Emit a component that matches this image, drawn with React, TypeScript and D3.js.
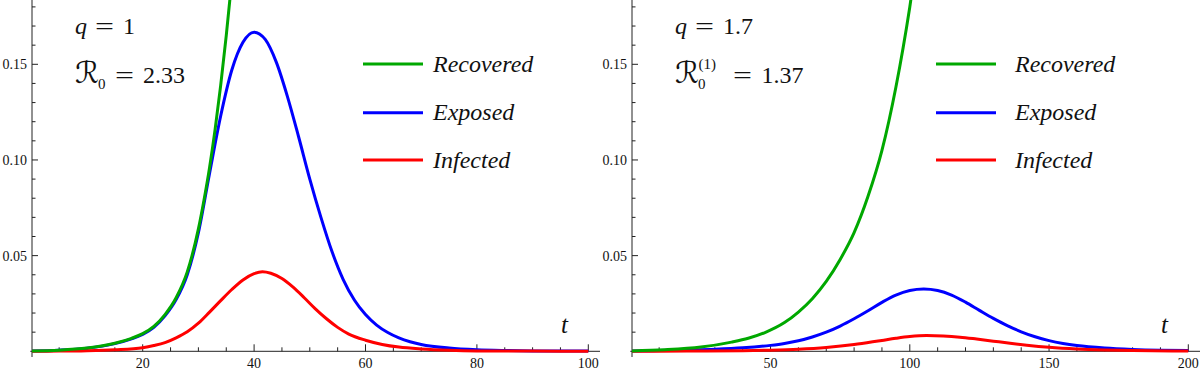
import React from "react";
import * as d3 from "d3";

// ---------- data ----------
const leftExposed: [number, number][] = [
  [0, 0.0002], [5, 0.0006], [10, 0.0016], [15, 0.004], [18, 0.0065], [20, 0.0088],
  [22, 0.0125], [24, 0.0185], [26, 0.027], [28, 0.04], [30, 0.062], [32, 0.093],
  [34, 0.123], [36, 0.147], [38, 0.1615], [40, 0.1668], [42, 0.163], [44, 0.151],
  [46, 0.133], [48, 0.112], [50, 0.09], [52, 0.07], [54, 0.052], [56, 0.0375],
  [58, 0.0268], [60, 0.0192], [62, 0.0137], [64, 0.0098], [66, 0.007], [68, 0.005],
  [70, 0.0036], [75, 0.0017], [80, 0.0008], [85, 0.0004], [90, 0.0002], [100, 0.0001],
];
const leftInfected: [number, number][] = [
  [0, 0.00005], [5, 0.0001], [10, 0.0003], [15, 0.0008], [20, 0.0019], [22, 0.003],
  [24, 0.0045], [26, 0.007], [28, 0.0102], [30, 0.0147], [32, 0.0205], [34, 0.0265],
  [36, 0.0323], [38, 0.0373], [40, 0.0406], [41.5, 0.0416], [43, 0.0408], [45, 0.038],
  [47, 0.0335], [49, 0.028], [51, 0.0222], [53, 0.017], [55, 0.0125], [57, 0.009],
  [60, 0.0058], [63, 0.0036], [66, 0.0022], [70, 0.0012], [75, 0.0005], [80, 0.0002],
  [90, 0.0001], [100, 0.00003],
];
const leftRecovered: [number, number][] = [
  [0, 0.0002], [5, 0.0006], [10, 0.0017], [15, 0.0042], [18, 0.0068], [20, 0.0092],
  [22, 0.013], [24, 0.0192], [26, 0.028], [28, 0.0415], [30, 0.064], [31, 0.079],
  [32, 0.096], [33, 0.116], [34, 0.139], [35, 0.165], [36, 0.194], [37, 0.226],
];

const rightExposed: [number, number][] = [
  [0, 0.0002], [10, 0.0004], [20, 0.0007], [30, 0.0011], [40, 0.0018], [50, 0.0031],
  [55, 0.0041], [60, 0.0055], [65, 0.0075], [70, 0.01], [75, 0.0132], [80, 0.017],
  [85, 0.0212], [90, 0.0256], [95, 0.0294], [100, 0.0318], [105, 0.0326], [110, 0.0318],
  [115, 0.0294], [120, 0.0257], [125, 0.0214], [130, 0.0172], [135, 0.0134], [140, 0.0102],
  [145, 0.0076], [150, 0.0056], [155, 0.0041], [160, 0.003], [170, 0.0017], [180, 0.001],
  [190, 0.0006], [200, 0.0004],
];
const rightInfected: [number, number][] = [
  [0, 0.00005], [20, 0.0001], [40, 0.0003], [50, 0.0006], [60, 0.0011], [70, 0.002],
  [80, 0.0035], [90, 0.0057], [95, 0.0068], [100, 0.0077], [106, 0.0082], [112, 0.008],
  [118, 0.0074], [124, 0.0064], [130, 0.0053], [136, 0.0042], [142, 0.0032], [150, 0.0021],
  [160, 0.0012], [170, 0.0007], [180, 0.0004], [200, 0.0001],
];
const rightRecovered: [number, number][] = [
  [0, 0.0002], [12, 0.0008], [25, 0.0022], [36, 0.0048], [42, 0.0068], [48, 0.0098],
  [55, 0.015], [60, 0.0205], [65, 0.0275], [70, 0.0365], [75, 0.048], [80, 0.062],
  [85, 0.081], [90, 0.105], [95, 0.138], [100, 0.18], [103, 0.21],
];

const leftXTicks = [20, 40, 60, 80, 100];
const rightXTicks = [50, 100, 150, 200];
const yTicks = [0.05, 0.1, 0.15];
const legendLabels = ["Recovered", "Exposed", "Infected"];

// ---------- styling ----------
const GREEN = "#00a800";
const BLUE = "#0000ff";
const RED = "#ff0000";
const W = 1200;
const H = 370;
const Y0 = 351.3;
const AXIS = "#222";
const SERIF = "Liberation Serif, Times New Roman, Times, DejaVu Serif, Noto Serif, serif";

const yScale = d3.scaleLinear().domain([0, 0.15]).range([Y0, 64.3]);

type PanelProps = {
  id: string;
  x0: number;
  x1: number;
  axisEnd: number;
  domainMax: number;
  majorStep: number;
  minorStep: number;
  xTicks: number[];
  exposed: [number, number][];
  infected: [number, number][];
  recovered: [number, number][];
  legendX: number;
  legendTextX: number;
  qText: string;
  rText: string;
  superscript: boolean;
};

function Panel(p: PanelProps) {
  const x = d3.scaleLinear().domain([0, p.domainMax]).range([p.x0, p.x1]);
  const line = d3
    .line<[number, number]>()
    .x((d) => x(d[0]))
    .y((d) => yScale(d[1]))
    .curve(d3.curveMonotoneX);
  const axisX = p.x0 + 0.7;
  const minorX = d3.range(p.minorStep, p.domainMax + 0.001, p.minorStep);
  const minorY = d3.range(0.01, 0.185, 0.01);
  const ox = p.x0 - 31.3;
  const legendY = [64, 112.7, 160];
  const legendColors = [GREEN, BLUE, RED];
  return (
    <g>
      <defs>
        <clipPath id={p.id}>
          <rect x={axisX} y={0} width={p.axisEnd - axisX} height={Y0 + 2} />
        </clipPath>
      </defs>
      {/* axes */}
      <line x1={axisX} x2={axisX} y1={0} y2={357} stroke={AXIS} strokeWidth={1} />
      <line x1={p.x0 - 1} x2={p.axisEnd} y1={Y0} y2={Y0} stroke={AXIS} strokeWidth={1} />
      {minorX.map((t) => {
        const major = Math.abs(t / p.majorStep - Math.round(t / p.majorStep)) < 1e-6;
        return (
          <line key={"mx" + t} x1={x(t)} x2={x(t)} y1={Y0} y2={Y0 - (major ? 7 : 4)} stroke={AXIS} strokeWidth={1} />
        );
      })}
      {minorY.map((v) => {
        const major = Math.abs(v / 0.05 - Math.round(v / 0.05)) < 1e-6;
        return (
          <line key={"my" + v} x1={axisX} x2={axisX + (major ? 6 : 3.5)} y1={yScale(v)} y2={yScale(v)} stroke={AXIS} strokeWidth={1} />
        );
      })}
      {p.xTicks.map((t) => (
        <text key={"lx" + t} x={x(t)} y={367.5} textAnchor="middle" fontFamily={SERIF} fontSize={14} fill="#111">
          {t}
        </text>
      ))}
      {yTicks.map((v) => (
        <text key={"ly" + v} x={axisX - 5} y={yScale(v)} dy="0.35em" textAnchor="end" fontFamily={SERIF} fontSize={14} fill="#111">
          {d3.format(".2f")(v)}
        </text>
      ))}
      {/* curves */}
      <g clipPath={`url(#${p.id})`} fill="none" strokeWidth={3} strokeLinejoin="round">
        <path d={line(p.exposed) || ""} stroke={BLUE} />
        <path d={line(p.infected) || ""} stroke={RED} />
        <path d={line(p.recovered) || ""} stroke={GREEN} />
      </g>
      {/* legend */}
      {legendLabels.map((lab, i) => (
        <g key={lab}>
          <line x1={p.legendX} x2={p.legendX + 60} y1={legendY[i]} y2={legendY[i]} stroke={legendColors[i]} strokeWidth={3} />
          <text x={p.legendTextX} y={legendY[i] + 7.5} fontFamily={SERIF} fontStyle="italic" fontSize={24} fill="#111">
            {lab}
          </text>
        </g>
      ))}
      {/* annotations */}
      <text x={ox + 75} y={33.5} fontFamily={SERIF} fontStyle="italic" fontSize={24} fill="#111">
        q
      </text>
      <text x={ox + 95} y={33.5} fontFamily={SERIF} fontSize={24} fill="#111" textLength={19} lengthAdjust="spacingAndGlyphs">
        =
      </text>
      <text x={ox + 123} y={33.5} fontFamily={SERIF} fontSize={24} fill="#111">
        {p.qText}
      </text>
      <text x={ox + 75} y={82.5} fontFamily="DejaVu Serif, DejaVu Sans, serif" fontStyle="italic" fontSize={30} fill="#111">
        ℛ
      </text>
      <text x={ox + 98} y={89} fontFamily={SERIF} fontSize={15} fill="#111">
        0
      </text>
      {p.superscript && (
        <text x={ox + 98.5} y={68.5} fontFamily={SERIF} fontSize={15} fill="#111">
          (1)
        </text>
      )}
      <text x={ox + (p.superscript ? 133 : 115)} y={82.5} fontFamily={SERIF} fontSize={24} fill="#111" textLength={19} lengthAdjust="spacingAndGlyphs">
        =
      </text>
      <text x={ox + (p.superscript ? 161.5 : 143)} y={82.5} fontFamily={SERIF} fontSize={24} fill="#111">
        {p.rText}
      </text>
      <text x={ox + 561} y={333} fontFamily={SERIF} fontStyle="italic" fontSize={25} fill="#111">
        t
      </text>
    </g>
  );
}

export default function App() {
  return (
    <svg width={W} height={H} viewBox={`0 0 ${W} ${H}`} style={{ position: "absolute", left: 0, top: 0, background: "#fff" }}>
      <rect x={0} y={0} width={W} height={H} fill="#fff" />
      <Panel
        id="clipL"
        x0={31.3}
        x1={588.3}
        axisEnd={600}
        domainMax={100}
        majorStep={20}
        minorStep={5}
        xTicks={leftXTicks}
        exposed={leftExposed}
        infected={leftInfected}
        recovered={leftRecovered}
        legendX={363}
        legendTextX={433}
        qText="1"
        rText="2.33"
        superscript={false}
      />
      <Panel
        id="clipR"
        x0={631.3}
        x1={1188.3}
        axisEnd={1200}
        domainMax={200}
        majorStep={50}
        minorStep={10}
        xTicks={rightXTicks}
        exposed={rightExposed}
        infected={rightInfected}
        recovered={rightRecovered}
        legendX={936}
        legendTextX={1015}
        qText="1.7"
        rText="1.37"
        superscript={true}
      />
    </svg>
  );
}
